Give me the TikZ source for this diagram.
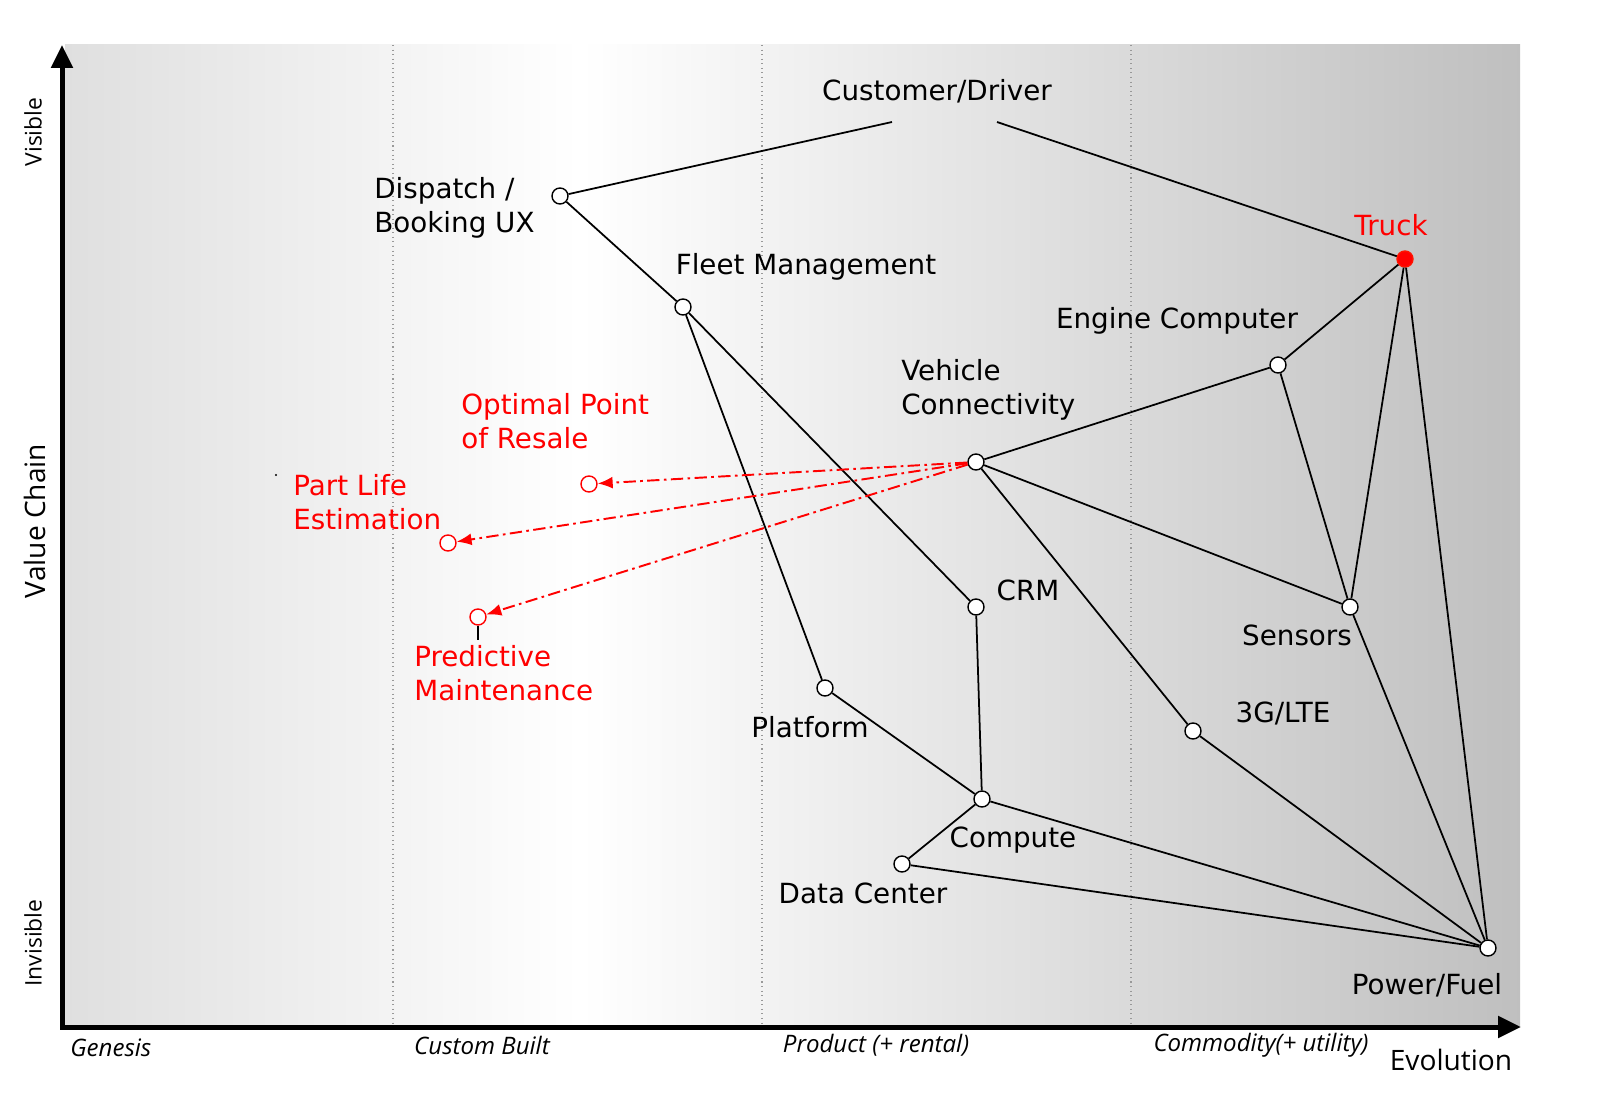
\documentclass[tikz,border=0pt]{standalone}
\usepackage{fontspec}
\setmainfont{DejaVu Sans}
\newfontfamily\axisfont{Open Sans}
\usetikzlibrary{arrows.meta}

\definecolor{mapred}{HTML}{FF0000}

\begin{document}
\begin{tikzpicture}[x=0.02cm, y=-0.02cm,
    comp/.style={circle, draw, fill=white, line width=0.8pt, inner sep=0pt, minimum size=0.32cm},
    redcomp/.style={comp, draw=mapred},
    lbl/.style={font=\fontsize{15.8}{19.3}\selectfont, align=left, inner sep=0pt},
    redlbl/.style={lbl, text=mapred},
    stage/.style={font=\axisfont\itshape\fontsize{13.7}{15}\selectfont, inner sep=0pt},
    axislbl/.style={font=\axisfont\fontsize{16}{19}\selectfont, inner sep=0pt},
    sidelbl/.style={font=\axisfont\fontsize{13}{15}\selectfont, inner sep=0pt, rotate=90},
    link/.style={line width=1pt},
    move/.style={mapred, line width=1.1pt, dash pattern=on 7pt off 2.5pt on 1.5pt off 2.5pt,
        -{Latex[length=0.3cm, width=0.24cm]}}]
    \useasboundingbox (0,0) rectangle (1607,1118);

    % background
    \shade[left color=gray!25, right color=white] (65,45) rectangle (580,1025);
    \shade[left color=white, right color=gray!50] (580,45) rectangle (1520,1025);
    \foreach \x in {393, 762, 1131}
        \draw[gray!80, dotted, line width=0.6pt] (\x,45) -- (\x,1025);

    % axes
    \draw[line width=0.1cm, -{Triangle[length=0.46cm, width=0.42cm]}] (62,1027) -- (62,45);
    \draw[line width=0.1cm, -{Triangle[length=0.46cm, width=0.42cm]}] (60,1027) -- (1521,1027);
    \node[sidelbl] (visible) at (33,132) {Visible};
    \node[axislbl, rotate=90] (vchain) at (35,521) {Value Chain};
    \node[sidelbl] (invisible) at (33,943) {Invisible};
    \node[stage, anchor=west] (genesis) at (70,1048) {Genesis};
    \node[stage] (custom) at (482,1045) {Custom Built};
    \node[stage] (product) at (876,1045) {Product (+ rental)};
    \node[stage] (commodity) at (1261,1045) {Commodity(+ utility)};
    \node[axislbl] (evolution) at (1451,1060) {Evolution};

    % components
    \node[lbl] (customer) at (937,91) {Customer/Driver};
    \coordinate (custL) at (892,122);
    \coordinate (custR) at (997,122);
    \node[comp] (dispatch) at (560,196) {};
    \node[comp] (fleet) at (683,307) {};
    \node[comp] (engine) at (1278,365) {};
    \node[comp] (vehicle) at (976,462) {};
    \node[comp] (crm) at (976,607) {};
    \node[comp] (sensors) at (1350,607) {};
    \node[comp] (platform) at (825,688) {};
    \node[comp] (lte) at (1193,731) {};
    \node[comp] (compute) at (982,799) {};
    \node[comp] (datacenter) at (902,864) {};
    \node[comp] (power) at (1488,948) {};
    \node[comp, fill=mapred, draw=mapred!85!orange] (truck) at (1405,259) {};

    % labels
    \node[lbl, anchor=west] at (374,208) {Dispatch /\\Booking UX};
    \node[lbl] at (806,267) {Fleet Management};
    \node[lbl] at (1177,321) {Engine Computer};
    \node[lbl, anchor=west] at (901,390) {Vehicle\\Connectivity};
    \node[lbl] at (1028,590) {CRM};
    \node[lbl] at (1297,635) {Sensors};
    \node[lbl] at (810,727) {Platform};
    \node[lbl] at (1283,713) {3G/LTE};
    \node[lbl] at (1013,840) {Compute};
    \node[lbl] at (863,893) {Data Center};
    \node[lbl] at (1427,985) {Power/Fuel};
    \node[redlbl] at (1391,225) {Truck};

    % links
    \draw[link] (custL) -- (dispatch);
    \draw[link] (custR) -- (truck);
    \draw[link] (dispatch) -- (fleet);
    \draw[link] (fleet) -- (platform);
    \draw[link] (fleet) -- (crm);
    \draw[link] (crm) -- (compute);
    \draw[link] (platform) -- (compute);
    \draw[link] (compute) -- (datacenter);
    \draw[link] (compute) -- (power);
    \draw[link] (datacenter) -- (power);
    \draw[link] (vehicle) -- (engine);
    \draw[link] (vehicle) -- (sensors);
    \draw[link] (vehicle) -- (lte);
    \draw[link] (lte) -- (power);
    \draw[link] (engine) -- (truck);
    \draw[link] (engine) -- (sensors);
    \draw[link] (truck) -- (sensors);
    \draw[link] (truck) -- (power);
    \draw[link] (sensors) -- (power);

    % future moves
    \node[redcomp] (resale) at (589,484) {};
    \node[redcomp] (partlife) at (448,543) {};
    \node[redcomp] (predictive) at (478,617) {};
    \node[redlbl, anchor=west] at (461,421) {Optimal Point\\of Resale};
    \node[redlbl, anchor=west] at (293,502) {Part Life\\Estimation};
    \node[redlbl, anchor=west] at (414,673) {Predictive\\Maintenance};
    \coordinate (predtail) at (478,640);
    \draw[line width=0.8pt] (predictive) -- (predtail);
    \draw[move] (vehicle) -- (resale);
    \draw[move] (vehicle) -- (partlife);
    \draw[move] (vehicle) -- (predictive);
    \fill (276,475) circle (1.2);
\end{tikzpicture}
\end{document}
